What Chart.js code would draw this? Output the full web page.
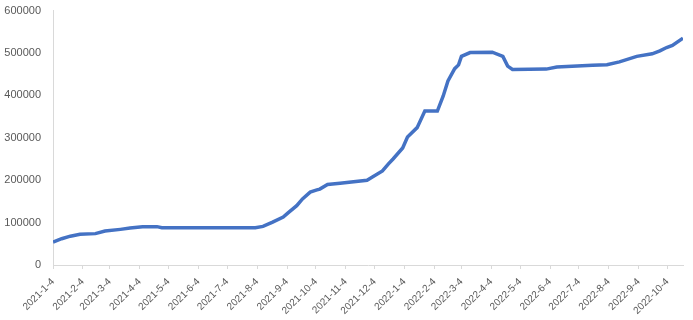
<!DOCTYPE html>
<html>
<head>
<meta charset="utf-8">
<script src="https://cdn.jsdelivr.net/npm/chart.js@4"></script>
<style>
  html, body { margin: 0; padding: 0; background: #fff; }
  #wrap { width: 693px; height: 320px; position: relative; }
</style>
</head>
<body>
<div id="wrap"><canvas id="lineChart"></canvas></div>
<script>
// values
const dates = [
  "2021-01-04", "2021-01-13", "2021-01-22", "2021-02-01", "2021-02-17", "2021-02-27",
  "2021-03-15", "2021-03-25", "2021-04-07", "2021-04-22", "2021-04-27", "2021-08-02",
  "2021-08-10", "2021-08-20", "2021-08-31", "2021-09-05", "2021-09-14", "2021-09-20",
  "2021-09-28", "2021-10-05", "2021-10-08", "2021-10-16", "2021-10-29", "2021-11-26",
  "2021-12-02", "2021-12-12", "2021-12-18", "2021-12-23", "2022-01-02", "2022-01-07",
  "2022-01-17", "2022-01-25", "2022-02-07", "2022-02-13", "2022-02-18", "2022-02-25",
  "2022-03-01", "2022-03-04", "2022-03-13", "2022-04-05", "2022-04-16", "2022-04-21",
  "2022-04-26", "2022-05-31", "2022-06-11", "2022-07-18", "2022-08-02", "2022-08-15",
  "2022-09-02", "2022-09-18", "2022-09-26", "2022-10-03", "2022-10-09", "2022-10-20"
];
const values = [
  54000, 62000, 68000, 72500, 74000, 80000,
  84000, 87000, 90000, 90500, 88000, 88000,
  91000, 101000, 113000, 123000, 140000, 156000,
  172000, 177000, 179000, 190000, 193000, 200000,
  208000, 222000, 238000, 250000, 276000, 302000,
  324000, 363000, 363000, 398000, 434000, 463000,
  472000, 492000, 501000, 502000, 492000, 469000,
  461000, 462000, 467000, 471000, 472500, 479000,
  492000, 498000, 505000, 513000, 518000, 535000
];
const tickLabels = [
  "2021-1-4", "2021-2-4", "2021-3-4", "2021-4-4", "2021-5-4", "2021-6-4",
  "2021-7-4", "2021-8-4", "2021-9-4", "2021-10-4", "2021-11-4", "2021-12-4",
  "2022-1-4", "2022-2-4", "2022-3-4", "2022-4-4", "2022-5-4", "2022-6-4",
  "2022-7-4", "2022-8-4", "2022-9-4", "2022-10-4"
];
const yTicks = [0, 100000, 200000, 300000, 400000, 500000, 600000];

const DAY = 86400000;
const start = Date.UTC(2021, 0, 4);
function dayNo(s) {
  const p = s.split("-").map(Number);
  return (Date.UTC(p[0], p[1] - 1, p[2]) - start) / DAY;
}
const tickDays = tickLabels.map(dayNo);
const points = dates.map((d, i) => ({ x: dayNo(d), y: values[i] }));

const grey = "#595959";
const ctx = document.getElementById("lineChart").getContext("2d");
const chart = new Chart(ctx, {
  type: "line",
  data: {
    datasets: [
      {
        label: "series",
        data: points,
        borderColor: "#4472C4",
        borderWidth: 3.5,
        pointRadius: 0,
        tension: 0,
        fill: false,
      },
    ],
  },
  options: {
    responsive: true,
    maintainAspectRatio: false,
    animation: false,
    layout: { padding: { left: 0, right: 10, top: 4, bottom: 0 } },
    plugins: {
      legend: { display: false },
      tooltip: { enabled: false },
    },
    scales: {
      x: {
        type: "linear",
        min: 0,
        max: dayNo(dates[dates.length - 1]),
        afterBuildTicks: (scale) => {
          scale.ticks = tickDays.map((v) => ({ value: v }));
        },
        afterFit: (scale) => { scale.height = 55; },
        grid: {
          display: true,
          drawOnChartArea: false,
          drawTicks: true,
          tickLength: 4,
          color: "#d9d9d9",
        },
        border: { display: true, color: "#d9d9d9" },
        ticks: {
          autoSkip: false,
          minRotation: 45,
          maxRotation: 45,
          padding: 7,
          color: grey,
          font: { family: "Liberation Sans", size: 10 },
          callback: (v) => {
            const i = tickDays.indexOf(v);
            return i >= 0 ? tickLabels[i] : "";
          },
        },
      },
      y: {
        min: 0,
        max: 600000,
        afterBuildTicks: (scale) => {
          scale.ticks = yTicks.map((v) => ({ value: v }));
        },
        afterFit: (scale) => { scale.width = 53; },
        grid: { display: false },
        border: { display: true, color: "#d9d9d9" },
        ticks: {
          padding: 4,
          color: grey,
          font: { family: "Liberation Sans", size: 11 },
          callback: (v) => String(v),
        },
      },
    },
  },
});
</script>
</body>
</html>
